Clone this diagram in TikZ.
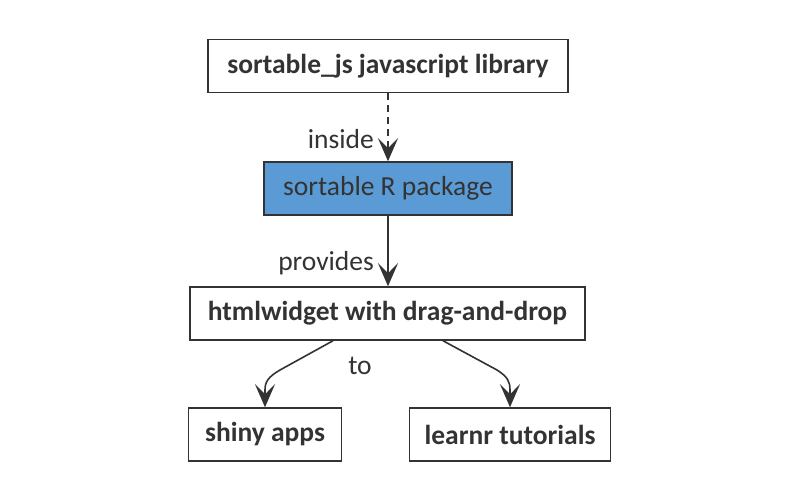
\documentclass[tikz,border=0pt]{standalone}
\usepackage{fontspec}
\setmainfont{Carlito}
\usetikzlibrary{arrows.meta}

\definecolor{ink}{HTML}{333333}
\definecolor{pkgblue}{HTML}{5B9BD5}

\tikzset{
    box/.style={draw=ink,line width=1.5pt,rectangle,minimum height=53pt,
        text=ink,font=\fontsize{27.5}{32}\selectfont\bfseries},
    pkg/.style={box,fill=pkgblue,font=\fontsize{27.5}{32}\selectfont},
    link/.style={draw=ink,line width=1.6pt,
        -{Stealth[length=23pt,width=20pt,inset=10pt]}},
    lbl/.style={text=ink,font=\fontsize{27.5}{32}\selectfont}
}

\begin{document}
\begin{tikzpicture}[x=1pt,y=-1pt]
    \useasboundingbox (0,0) rectangle (798,498);

    \node[box,minimum width=360pt] (lib) at (388,66) {sortable\_js javascript library};
    \node[pkg,minimum width=248pt] (pkg) at (388,188.5) {sortable R package};
    \node[box,minimum width=395pt] (widget) at (387.5,313.5) {htmlwidget with drag-and-drop};
    \node[box,minimum width=153pt] (shiny) at (265,434.5) {shiny apps};
    \node[box,minimum width=201pt] (learnr) at (510,434.5) {learnr tutorials};

    \draw[link,dash pattern=on 7pt off 5pt] (lib) -- node[lbl,pos=0.67,anchor=east,xshift=-10pt] {inside} (pkg);
    \draw[link] (pkg) -- node[lbl,pos=0.67,anchor=east,xshift=-10pt] {provides} (widget.north -| pkg);

    \node[lbl] (to) at (360,366) {to};
    \draw[link] ([xshift=-54.5pt]widget.south) -- (280,370)
        .. controls (268,377) and (265,382) .. (265,390) -- (shiny.north);
    \draw[link] ([xshift=55.5pt]widget.south) -- (497,370)
        .. controls (508,377) and (510,382) .. (510,390) -- (learnr.north);
\end{tikzpicture}
\end{document}
